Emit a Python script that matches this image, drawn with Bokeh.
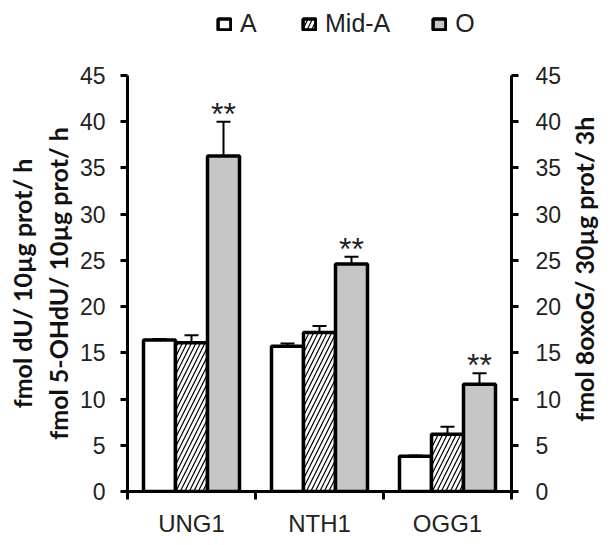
import math
import numpy as np
from bokeh.plotting import figure
from bokeh.layouts import row, column
from bokeh.models import (Range1d, LinearAxis, FixedTicker, Whisker, ColumnDataSource,
                          Legend, LegendItem, TeeHead, Label)
from bokeh.transform import dodge
from bokeh.core.properties import value
from bokeh.embed import file_html
from bokeh.resources import INLINE

categories = ["UNG1", "NTH1", "OGG1"]
series_names = ["A", "Mid-A", "O"]
a_vals = [16.4, 15.7, 3.8]
a_err = [0.1, 0.3, 0.1]
mid_vals = [16.1, 17.2, 6.2]
mid_err = [0.8, 0.7, 0.8]
o_vals = [36.3, 24.6, 11.6]
o_err = [3.7, 0.8, 1.2]
o_sig = ["**", "**", "**"]
y_ticks = [0, 5, 10, 15, 20, 25, 30, 35, 40, 45]
left_label = "fmol dU/ 10µg prot/ h\nfmol 5-OHdU/ 10µg prot/ h"
right_label = "fmol 8oxoG/ 30µg prot/ 3h"

FONT = "Liberation Sans"
LFONT = "Lato"

FW, FH = 384, 416
BL, BR, BT, BB = 127, 50, 13, 54
LEG_H = 62
TOTAL_W = 611

xc = np.arange(len(categories)) + 0.5

bw = 0.25
offsets = [-bw, 0.0, bw]
fills = ["white", "white", "#c6c6c6"]
hatches = [None, "/", None]
vals_list = [a_vals, mid_vals, o_vals]
errs_list = [a_err, mid_err, o_err]


def bar_style(fc, hp):
    kw = dict(fill_color=fc, line_color="black", line_width=3.5)
    if hp:
        kw.update(hatch_pattern=hp, hatch_color="black", hatch_scale=9, hatch_weight=1.2)
    return kw


# ---------------- main chart ----------------
p = figure(frame_width=FW, frame_height=FH,
           x_range=Range1d(0, len(categories)), y_range=Range1d(0, 45),
           output_backend="svg", toolbar_location=None,
           min_border_left=BL, min_border_right=BR, min_border_top=BT, min_border_bottom=BB,
           outline_line_color=None, background_fill_color="white", border_fill_color="white")
p.xgrid.visible = False
p.ygrid.visible = False
p.title.visible = False

for name, off, fc, hp, vals, errs in zip(series_names, offsets, fills, hatches, vals_list, errs_list):
    src = ColumnDataSource(dict(x=xc, top=vals, upper=np.array(vals) + np.array(errs)))
    w = Whisker(source=src, base=dodge('x', off), upper='upper', lower='top',
                upper_head=TeeHead(size=14, line_width=2, line_color="black"), lower_head=None,
                line_width=2, line_color="black", level="underlay")
    p.add_layout(w)
    p.vbar(x=dodge('x', off), top='top', bottom=0, width=bw, source=src, **bar_style(fc, hp))
    if name == "O":
        src.data["sig"] = o_sig
        p.text(x=dodge('x', off), y='upper', text='sig', source=src, text_align="center",
               text_baseline="alphabetic", text_font=value(FONT), text_font_size="32px",
               text_color="#222222", y_offset=-8)

xa = p.xaxis[0]
xa.ticker = FixedTicker(ticks=list(xc), minor_ticks=list(range(len(categories) + 1)))
xa.major_label_overrides = {float(x): c for x, c in zip(xc, categories)}
xa.axis_label = None
xa.major_tick_out = 0
xa.major_tick_in = 0
xa.minor_tick_out = 8
xa.minor_tick_in = 0
xa.minor_tick_line_width = 3
xa.minor_tick_line_color = "black"
xa.axis_line_width = 3
xa.axis_line_color = "black"
xa.major_label_standoff = 10
xa.major_label_text_font = FONT
xa.major_label_text_font_size = "24px"
xa.major_label_text_color = "#222222"


def style_y(ax, standoff):
    ax.ticker = FixedTicker(ticks=y_ticks)
    ax.major_tick_out = 7
    ax.major_tick_in = 0
    ax.minor_tick_out = 0
    ax.minor_tick_in = 0
    ax.major_tick_line_width = 3
    ax.major_tick_line_color = "black"
    ax.axis_line_width = 3
    ax.axis_line_color = "black"
    ax.major_label_standoff = standoff
    ax.major_label_text_font = FONT
    ax.major_label_text_font_size = "23px"
    ax.major_label_text_color = "#222222"
    ax.axis_label_text_font = LFONT
    ax.axis_label_text_font_style = "bold"
    ax.axis_label_text_color = "#111111"


ya = p.yaxis[0]
style_y(ya, 15)
ya.axis_label = left_label
ya.axis_label_text_font_size = "25px"
ya.axis_label_standoff = 4

yr = LinearAxis(axis_label=None)
style_y(yr, 17)
p.add_layout(yr, "right")

H = BT + FH + BB
W1 = BL + FW + BR
W2 = TOTAL_W - W1

# ---------------- right-hand axis title ----------------
p2 = figure(width=W2, height=H, x_range=Range1d(0, W2), y_range=Range1d(0, H),
            output_backend="svg", toolbar_location=None,
            x_axis_location=None, y_axis_location=None,
            min_border=0, outline_line_color=None, border_fill_color="white")
p2.xgrid.visible = False
p2.ygrid.visible = False
p2.title.visible = False
p2.add_layout(Label(x=4, y=BB + FH / 2 - 4, text=right_label, angle=math.pi / 2,
                    text_align="center", text_baseline="top",
                    text_font=LFONT, text_font_style="bold", text_font_size="25px",
                    text_color="#111111"))

# ---------------- legend strip ----------------
p0 = figure(width=TOTAL_W, height=LEG_H, x_range=Range1d(0, 1), y_range=Range1d(0, 1),
            output_backend="svg", toolbar_location=None,
            x_axis_location=None, y_axis_location=None,
            min_border=0, outline_line_color=None, border_fill_color="white")
p0.xgrid.visible = False
p0.ygrid.visible = False
p0.title.visible = False
items = []
for name, fc, hp in zip(series_names, fills, hatches):
    # legend-only renderer (hidden); the legend still draws its swatch
    r = p0.vbar(x=[0.5], bottom=[0], top=[1], width=0.1, visible=False, **bar_style(fc, hp))
    items.append(LegendItem(label=name, renderers=[r]))
legend = Legend(items=items, orientation="horizontal", location=(216, 24),
                border_line_color=None, background_fill_alpha=0,
                inactive_fill_alpha=0,
                padding=0, margin=0, spacing=41, glyph_width=16, glyph_height=14,
                label_standoff=8, label_text_font=FONT, label_text_font_size="25px",
                label_text_color="#222222")
p0.add_layout(legend, "center")

layout = column(p0, row(p, p2, spacing=0), spacing=0)
open("out.html", "w").write(file_html(layout, INLINE))
